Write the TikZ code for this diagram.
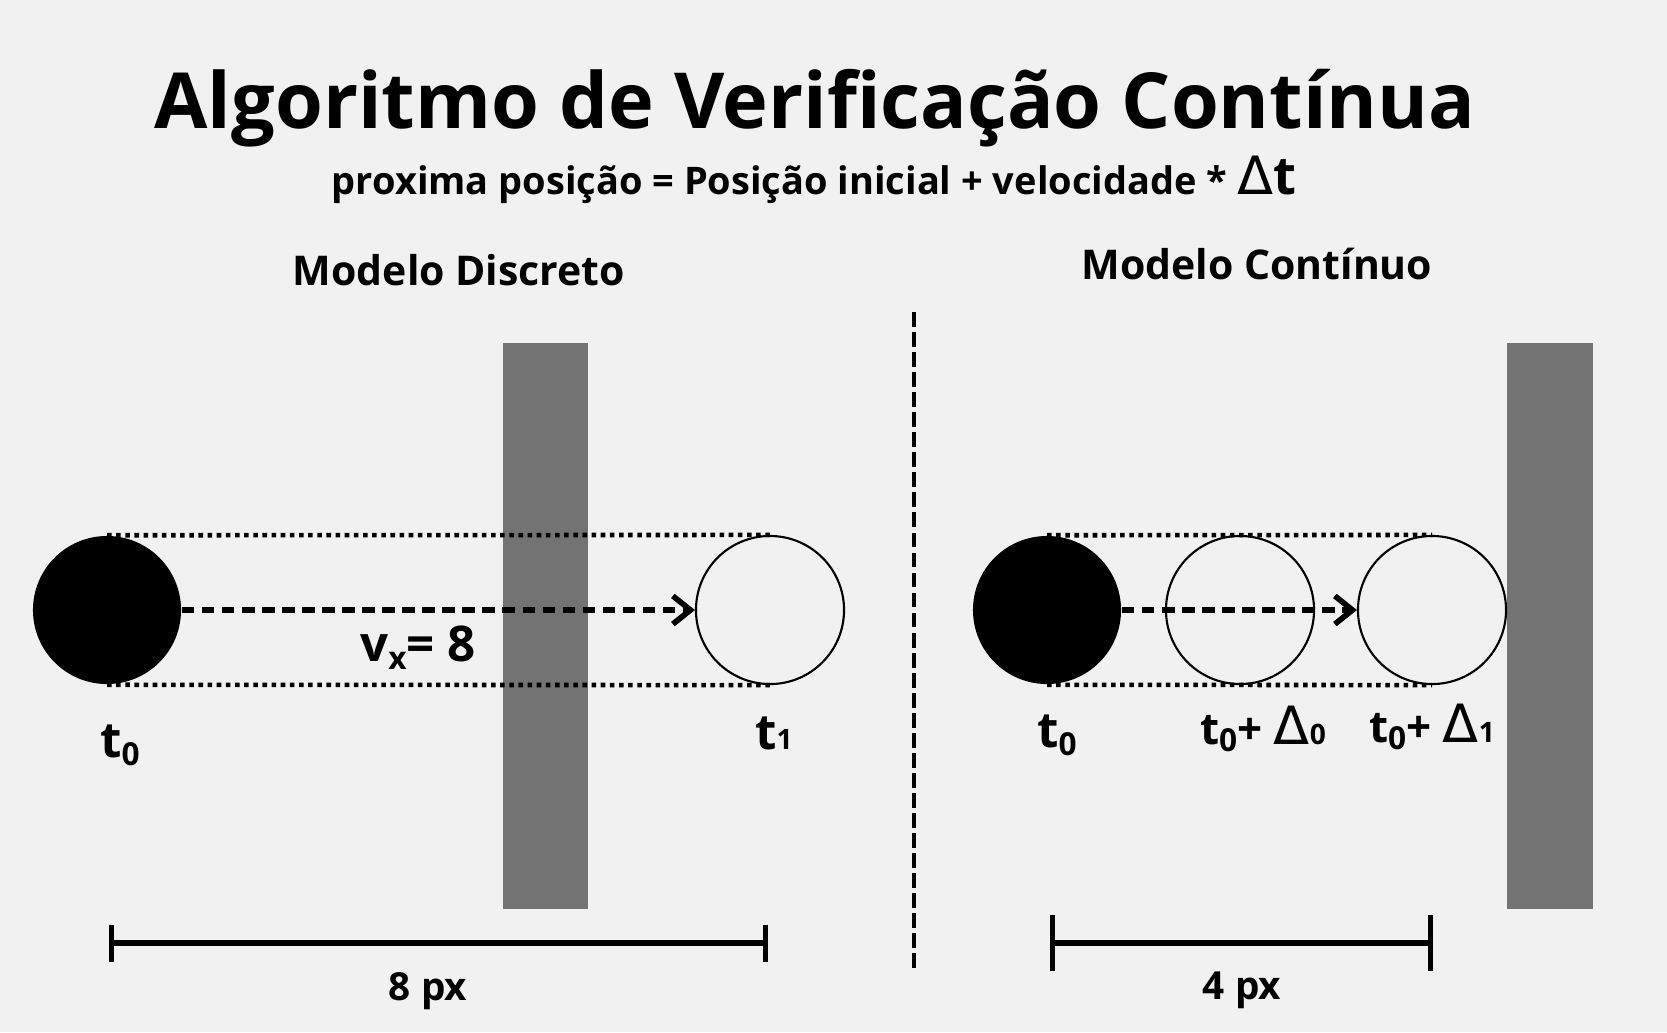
\documentclass[tikz,border=0pt]{standalone}
\usepackage{fontspec}
\setmainfont{Open Sans}
\newfontfamily\deltafont{DejaVu Sans}
\usetikzlibrary{arrows.meta}

\definecolor{bgcol}{HTML}{F1F1F1}
\definecolor{wallgray}{HTML}{737373}

\newcommand{\lowidx}[1]{\raisebox{-0.3ex}{\small #1}}
\newcommand{\dlt}{{\deltafont\mdseries Δ}}

\tikzset{
  ball/.style={circle, fill=black, minimum size=1.48cm, inner sep=0pt},
  ghost/.style={circle, draw=black, line width=0.6pt, minimum size=1.48cm, inner sep=0pt},
  track/.style={line width=1.3pt, dash pattern=on 1.3pt off 1.3pt},
  motion/.style={line width=1.6pt, dash pattern=on 3.6pt off 2.1pt, -{Straight Barb[length=5pt,width=8pt,line width=1.6pt]}},
  wall/.style={fill=wallgray},
  label/.style={font=\bfseries\fontsize{14}{16}\selectfont, anchor=base},
  heading/.style={font=\bfseries\fontsize{11.65}{14}\selectfont, anchor=base},
  dimtext/.style={font=\bfseries\fontsize{11}{13}\selectfont, anchor=base},
}

\begin{document}
\begin{tikzpicture}[x=0.01cm, y=-0.01cm]
  \fill[bgcol] (0,0) rectangle (1667,1032);

  % titles
  \node[anchor=base, font=\bfseries\fontsize{22}{26}\selectfont] (title) at (815,128) {Algoritmo de Verificação Contínua};
  \node[anchor=base, font=\bfseries\fontsize{10.8}{13}\selectfont] (formula) at (814,194) {proxima posição = Posição inicial + velocidade * {\fontsize{15}{18}\selectfont\dlt t}};
  \node[heading] (hdisc) at (459,285) {Modelo Discreto};
  \node[heading] (hcont) at (1257,279) {Modelo Contínuo};

  % walls
  \fill[wall] (503,343) rectangle (588,909);
  \fill[wall] (1507,343) rectangle (1593,909);

  % divider
  \draw[line width=1.3pt, dash pattern=on 4.2pt off 1.5pt] (914,312) -- (914,973);

  % discrete model
  \node[ball] (b0) at (107,610) {};
  \node[ghost] (g1) at (770,610) {};
  \draw[track] (b0.north) -- (g1.north);
  \draw[track] (b0.south) -- (g1.south);
  \draw[motion] (b0.east) -- (g1.west);
  \node[label] (vx) at (418,661) {v\lowidx{x}= 8};
  \node[label] (lt0) at (120,757) {t\lowidx{0}};
  \node[label] (lt1) at (774,749) {t{\footnotesize 1}};

  % continuous model
  \node[ball] (c0) at (1047,610) {};
  \node[ghost] (c1) at (1240,610) {};
  \node[ghost] (c2) at (1432,610) {};
  \draw[track] (c0.north) -- (c2.north);
  \draw[track] (c0.south) -- (c2.south);
  \draw[motion] (c0.east) -- (c2.west);
  \node[label] (rt0) at (1057,747) {t\lowidx{0}};
  \node[label, font=\bfseries\fontsize{12.5}{14}\selectfont] (rt1) at (1263,744) {t\lowidx{0}+ {\fontsize{15}{16}\selectfont\dlt}{\footnotesize 0}};
  \node[label, font=\bfseries\fontsize{12.5}{14}\selectfont] (rt2) at (1432,742) {t\lowidx{0}+ {\fontsize{15}{16}\selectfont\dlt}{\footnotesize 1}};

  % distances
  \coordinate (d0) at (109,943);
  \coordinate (d1) at (768,943);
  \draw[line width=1.5pt, {Bar[width=0.37cm]}-{Bar[width=0.37cm]}] (d0) -- (d1);
  \node[dimtext] (dist8) at (428,1000) {8 px};
  \coordinate (e0) at (1050,943);
  \coordinate (e1) at (1433,943);
  \draw[line width=1.5pt, {Bar[width=0.56cm]}-{Bar[width=0.56cm]}] (e0) -- (e1);
  \node[dimtext] (dist4) at (1242,999) {4 px};
\end{tikzpicture}
\end{document}
